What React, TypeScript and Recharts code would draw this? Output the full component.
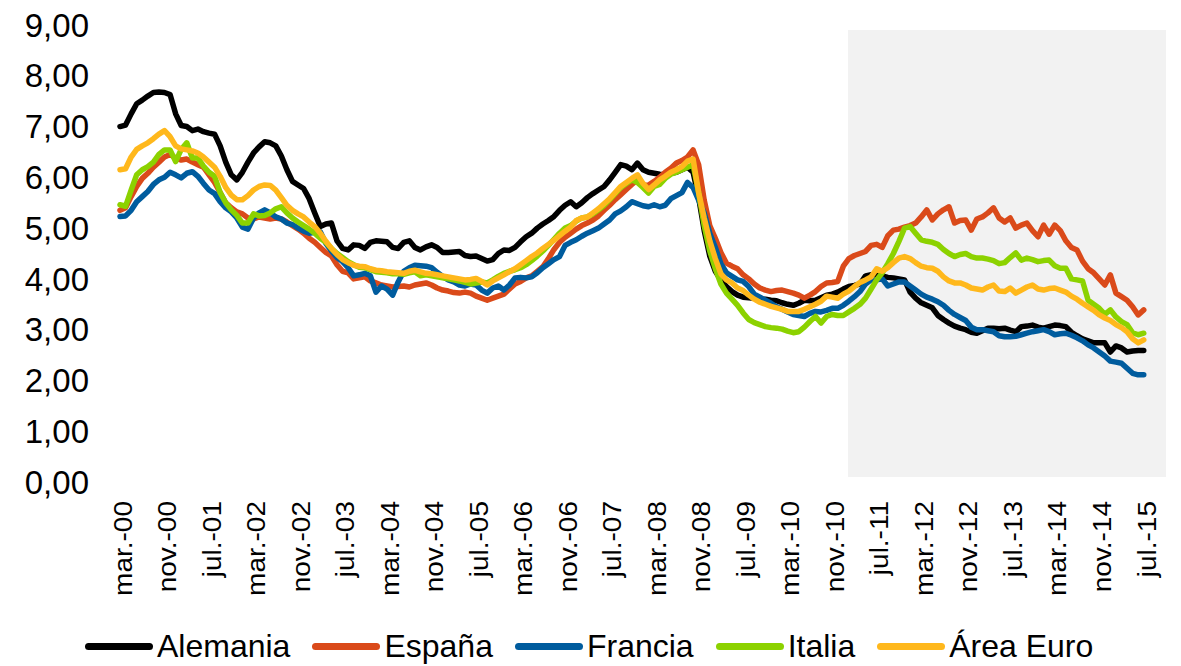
import React from 'react';
import { LineChart, Line, XAxis, YAxis, ReferenceArea, ReferenceLine } from 'recharts';

// month index 0 = mar.-00 ... 184 = jul.-15
const tickLabels = [
    'mar.-00', 'nov.-00', 'jul.-01', 'mar.-02', 'nov.-02', 'jul.-03', 'mar.-04', 'nov.-04',
    'jul.-05', 'mar.-06', 'nov.-06', 'jul.-07', 'mar.-08', 'nov.-08', 'jul.-09', 'mar.-10',
    'nov.-10', 'jul.-11', 'mar.-12', 'nov.-12', 'jul.-13', 'mar.-14', 'nov.-14', 'jul.-15',
];
const tickStep = 8;
const yTicks = [0, 1, 2, 3, 4, 5, 6, 7, 8, 9];

// shaded period (month index) in the background
const shadeFrom = 130.85;
const shadeTo = 188;

const alemania = [
    7.00, 7.03, 7.25, 7.45, 7.52, 7.60, 7.67, 7.68, 7.67, 7.63,
    7.25, 7.02, 7.00, 6.92, 6.95, 6.90, 6.87, 6.85, 6.62, 6.30,
    6.05, 5.95, 6.10, 6.30, 6.48, 6.60, 6.70, 6.68, 6.62, 6.42,
    6.15, 5.92, 5.85, 5.78, 5.58, 5.30, 5.03, 5.08, 5.10, 4.75,
    4.60, 4.57, 4.67, 4.66, 4.60, 4.72, 4.75, 4.74, 4.73, 4.62,
    4.60, 4.72, 4.75, 4.62, 4.57, 4.63, 4.67, 4.62, 4.52, 4.52,
    4.53, 4.54, 4.46, 4.44, 4.45, 4.40, 4.35, 4.38, 4.50, 4.57,
    4.56, 4.62, 4.73, 4.83, 4.90, 5.00, 5.08, 5.15, 5.23, 5.35,
    5.45, 5.52, 5.42, 5.50, 5.60, 5.68, 5.75, 5.82, 5.95, 6.10,
    6.25, 6.22, 6.15, 6.28, 6.15, 6.10, 6.08, 6.06, 6.05, 6.08,
    6.10, 6.15, 6.20, 6.10, 5.60, 4.95, 4.45, 4.15, 3.98, 3.85,
    3.75, 3.68, 3.64, 3.63, 3.62, 3.60, 3.60, 3.58, 3.57, 3.53,
    3.50, 3.48, 3.52, 3.58, 3.57, 3.58, 3.63, 3.68, 3.70, 3.74,
    3.80, 3.85, 3.87, 3.90, 4.06, 4.08, 4.08, 4.06, 4.03, 4.02,
    4.00, 3.98, 3.74, 3.62, 3.53, 3.48, 3.43, 3.28, 3.20, 3.13,
    3.07, 3.03, 3.00, 2.95, 2.93, 2.98, 3.03, 3.03, 3.02, 3.03,
    2.99, 2.96, 3.06, 3.07, 3.09, 3.05, 3.03, 3.06, 3.09, 3.08,
    3.06, 2.95, 2.88, 2.82, 2.78, 2.74, 2.74, 2.74, 2.56, 2.68,
    2.64, 2.56, 2.58, 2.59, 2.59,
];

const espana = [
    5.35, 5.40, 5.62, 5.82, 5.98, 6.08, 6.20, 6.30, 6.40, 6.45,
    6.38, 6.34, 6.36, 6.30, 6.25, 6.20, 6.05, 5.90, 5.70, 5.50,
    5.40, 5.32, 5.28, 5.20, 5.18, 5.22, 5.20, 5.18, 5.20, 5.18,
    5.12, 5.05, 4.98, 4.90, 4.80, 4.72, 4.62, 4.52, 4.45, 4.28,
    4.15, 4.12, 4.00, 4.02, 4.04, 3.96, 3.92, 3.88, 3.86, 3.84,
    3.85, 3.86, 3.84, 3.88, 3.90, 3.92, 3.88, 3.82, 3.78, 3.76,
    3.73, 3.72, 3.74, 3.72, 3.66, 3.62, 3.58, 3.62, 3.66, 3.70,
    3.80, 3.90, 3.95, 4.02, 4.06, 4.15, 4.24, 4.40, 4.58, 4.72,
    4.82, 4.90, 4.98, 5.05, 5.10, 5.16, 5.24, 5.35, 5.45, 5.56,
    5.66, 5.76, 5.86, 5.95, 5.84, 5.85, 5.92, 6.00, 6.10, 6.18,
    6.28, 6.33, 6.40, 6.54, 6.25, 5.55, 5.05, 4.80, 4.52, 4.31,
    4.25, 4.20, 4.08, 4.00, 3.90, 3.82, 3.78, 3.75, 3.77, 3.78,
    3.75, 3.72, 3.68, 3.62, 3.68, 3.75, 3.85, 3.92, 3.93, 3.95,
    4.25, 4.40, 4.46, 4.50, 4.54, 4.66, 4.68, 4.62, 4.85, 4.96,
    4.98, 5.02, 5.05, 5.10, 5.22, 5.36, 5.16, 5.28, 5.36, 5.42,
    5.10, 5.15, 5.16, 4.96, 5.18, 5.22, 5.30, 5.40, 5.20, 5.12,
    5.20, 5.00, 5.06, 5.10, 4.95, 4.83, 5.06, 4.88, 5.06, 4.95,
    4.75, 4.62, 4.57, 4.35, 4.20, 4.12, 4.00, 3.88, 4.08, 3.72,
    3.65, 3.58, 3.45, 3.29, 3.39,
];

const francia = [
    5.23, 5.24, 5.35, 5.52, 5.62, 5.72, 5.86, 5.95, 6.00, 6.10,
    6.05, 5.99, 6.08, 6.11, 6.02, 5.88, 5.75, 5.68, 5.52, 5.40,
    5.32, 5.20, 5.02, 4.98, 5.20, 5.30, 5.36, 5.30, 5.22, 5.18,
    5.10, 5.07, 5.00, 4.94, 4.90, 4.92, 4.93, 4.70, 4.55, 4.42,
    4.34, 4.22, 4.06, 4.08, 4.11, 4.06, 3.74, 3.86, 3.80, 3.68,
    3.94, 4.15, 4.22, 4.27, 4.26, 4.25, 4.22, 4.13, 4.05, 3.98,
    3.94, 3.88, 3.86, 3.90, 3.88, 3.78, 3.72, 3.82, 3.86, 3.78,
    3.88, 4.02, 4.03, 4.02, 4.04, 4.12, 4.22, 4.30, 4.38, 4.44,
    4.66, 4.72, 4.77, 4.84, 4.90, 4.95, 5.00, 5.08, 5.16, 5.28,
    5.34, 5.42, 5.52, 5.48, 5.44, 5.42, 5.46, 5.42, 5.45, 5.58,
    5.64, 5.70, 5.90, 5.80, 5.55, 5.30, 4.90, 4.62, 4.30, 4.12,
    4.05, 3.98, 3.95, 3.85, 3.70, 3.64, 3.58, 3.52, 3.45, 3.40,
    3.35, 3.30, 3.28, 3.26, 3.32, 3.36, 3.35, 3.38, 3.42, 3.42,
    3.48, 3.56, 3.65, 3.75, 3.90, 3.98, 3.98, 4.00, 3.86, 3.90,
    3.94, 3.94, 3.86, 3.78, 3.70, 3.64, 3.60, 3.55, 3.48, 3.38,
    3.30, 3.24, 3.18, 3.05, 3.00, 3.00, 2.98, 2.96, 2.88, 2.86,
    2.86, 2.87, 2.90, 2.93, 2.96, 2.98, 3.00, 2.96, 2.90, 2.92,
    2.93, 2.89, 2.84, 2.78, 2.70, 2.64, 2.56, 2.48, 2.38, 2.36,
    2.34, 2.24, 2.14, 2.11, 2.11,
];

const italia = [
    5.46, 5.43, 5.75, 6.05, 6.15, 6.21, 6.30, 6.45, 6.54, 6.54,
    6.31, 6.55, 6.68, 6.38, 6.38, 6.22, 6.10, 6.02, 5.70, 5.50,
    5.36, 5.25, 5.10, 5.10, 5.28, 5.24, 5.25, 5.30, 5.38, 5.42,
    5.30, 5.20, 5.12, 5.05, 4.98, 4.90, 4.80, 4.72, 4.60, 4.50,
    4.42, 4.34, 4.28, 4.23, 4.22, 4.18, 4.14, 4.13, 4.12, 4.10,
    4.10, 4.09, 4.12, 4.14, 4.06, 4.08, 4.06, 4.04, 4.02, 4.00,
    3.98, 3.96, 3.93, 3.90, 3.92, 3.94, 3.92, 3.98, 4.05, 4.11,
    4.15, 4.18, 4.22, 4.28, 4.36, 4.45, 4.55, 4.66, 4.78, 4.90,
    5.00, 5.05, 5.14, 5.20, 5.22, 5.28, 5.36, 5.45, 5.56, 5.68,
    5.80, 5.88, 5.95, 5.90, 5.80, 5.69, 5.82, 5.86, 5.98, 6.06,
    6.10, 6.15, 6.20, 6.25, 5.70, 5.05, 4.55, 4.20, 3.90, 3.72,
    3.60, 3.48, 3.33, 3.20, 3.14, 3.10, 3.06, 3.04, 3.03, 3.01,
    2.97, 2.94, 2.96, 3.05, 3.16, 3.26, 3.13, 3.26, 3.30, 3.28,
    3.28, 3.35, 3.42, 3.50, 3.62, 3.80, 3.98, 4.12, 4.30, 4.50,
    4.74, 5.00, 5.03, 4.90, 4.77, 4.74, 4.72, 4.68, 4.58, 4.50,
    4.44, 4.48, 4.50, 4.44, 4.41, 4.41, 4.39, 4.36, 4.30, 4.32,
    4.42, 4.51, 4.37, 4.41, 4.38, 4.34, 4.36, 4.37, 4.26, 4.21,
    4.21, 4.00, 3.98, 3.96, 3.58, 3.50, 3.42, 3.30, 3.39, 3.25,
    3.16, 3.10, 2.94, 2.90, 2.93,
];

const areaEuro = [
    6.15, 6.17, 6.40, 6.55, 6.62, 6.68, 6.76, 6.85, 6.92, 6.80,
    6.62, 6.56, 6.54, 6.52, 6.48, 6.40, 6.30, 6.20, 6.02, 5.80,
    5.65, 5.56, 5.56, 5.64, 5.75, 5.82, 5.85, 5.84, 5.75, 5.60,
    5.45, 5.35, 5.28, 5.22, 5.12, 5.03, 4.90, 4.74, 4.60, 4.48,
    4.38, 4.32, 4.27, 4.25, 4.24, 4.20, 4.17, 4.16, 4.14, 4.13,
    4.12, 4.11, 4.15, 4.17, 4.14, 4.11, 4.10, 4.08, 4.06, 4.04,
    4.02, 4.00, 3.98, 3.99, 4.01, 3.95, 3.88, 3.96, 4.02, 4.08,
    4.14, 4.20, 4.28, 4.36, 4.44, 4.51, 4.60, 4.68, 4.76, 4.85,
    4.94, 5.02, 5.15, 5.20, 5.22, 5.30, 5.38, 5.48, 5.58, 5.70,
    5.82, 5.90, 5.98, 6.05, 5.88, 5.76, 5.85, 5.95, 6.02, 6.10,
    6.15, 6.21, 6.32, 6.36, 5.70, 5.20, 4.75, 4.40, 4.10, 3.98,
    3.92, 3.82, 3.77, 3.68, 3.60, 3.54, 3.50, 3.46, 3.43, 3.40,
    3.36, 3.36, 3.36, 3.40, 3.45, 3.50, 3.56, 3.66, 3.64, 3.62,
    3.70, 3.76, 3.85, 3.93, 3.98, 4.04, 4.20, 4.15, 4.22, 4.32,
    4.41, 4.44, 4.40, 4.32, 4.25, 4.22, 4.21, 4.15, 4.04, 3.96,
    3.92, 3.92, 3.88, 3.82, 3.80, 3.78, 3.84, 3.88, 3.76, 3.75,
    3.82, 3.72, 3.78, 3.84, 3.88, 3.80, 3.78, 3.81, 3.82, 3.78,
    3.74, 3.66, 3.60, 3.52, 3.45, 3.38, 3.29, 3.23, 3.18, 3.10,
    3.04, 2.96, 2.82, 2.74, 2.80,
];

const series = [
    { name: 'Alemania', color: '#000000', values: alemania },
    { name: 'España', color: '#DA4A1A', values: espana },
    { name: 'Francia', color: '#005C9E', values: francia },
    { name: 'Italia', color: '#8CD200', values: italia },
    { name: 'Área Euro', color: '#FFB81C', values: areaEuro },
];

const chartData = alemania.map((_, i) => {
    const row: { [key: string]: number } = { m: i };
    series.forEach(s => {
        row[s.name] = s.values[i];
    });
    return row;
});

const tickMonths = tickLabels.map((_, k) => k * tickStep);
const FONT = '"Liberation Sans", Arial, sans-serif';

const formatValue = (v: number) => v.toFixed(2).replace('.', ',');

const MonthTick = (props: any) => {
    const { x, y, payload } = props;
    const label = tickLabels[Math.round(payload.value / tickStep)];
    return (
        <text
            transform={`translate(${x + 3},${y + 19}) rotate(-90) scale(1.12,1)`}
            textAnchor="end"
            dy="0.35em"
            fontSize={25}
            fontFamily={FONT}
            fill="#000"
        >
            {label}
        </text>
    );
};

const App: React.FC = () => {
    return (
        <div style={{ position: 'relative', width: 1181, height: 666, margin: '-8px 0 0 -8px', fontFamily: FONT, background: '#fff', overflow: 'hidden' }}>
            <div style={{ position: 'absolute', left: 0, top: 178, width: 6, height: 367, background: '#000' }} />
            <LineChart width={1181} height={610} data={chartData} margin={{ top: 25, right: 15, left: 0, bottom: 0 }}>
                <ReferenceArea x1={shadeFrom} x2={shadeTo} y1={0.1} y2={8.9} fill="#F2F2F2" fillOpacity={1} stroke="none" />
                <ReferenceLine
                    segment={[{ x: -0.3, y: 0.03 }, { x: 184.6, y: 0.03 }]}
                    stroke="#D9D9D9"
                    strokeWidth={2}
                />
                <XAxis
                    type="number"
                    dataKey="m"
                    domain={[0, 188]}
                    ticks={tickMonths}
                    interval={0}
                    tick={<MonthTick />}
                    tickLine={false}
                    axisLine={false}
                    tickSize={0}
                    tickMargin={0}
                    height={128}
                />
                <YAxis
                    domain={[0, 9]}
                    ticks={yTicks}
                    interval={0}
                    width={120}
                    tickFormatter={formatValue}
                    tick={{ fontSize: 33, fill: '#000', fontFamily: FONT }}
                    tickLine={false}
                    axisLine={false}
                    tickSize={0}
                    tickMargin={31}
                />
                {series.map(s => (
                    <Line
                        key={s.name}
                        type="linear"
                        dataKey={s.name}
                        stroke={s.color}
                        strokeWidth={5.5}
                        strokeLinejoin="round"
                        strokeLinecap="round"
                        dot={false}
                        activeDot={false}
                        isAnimationActive={false}
                    />
                ))}
            </LineChart>
            <div
                style={{
                    position: 'absolute',
                    left: 85,
                    top: 629,
                    height: 34,
                    display: 'flex',
                    alignItems: 'center',
                    fontSize: 32,
                    lineHeight: '34px',
                    color: '#000',
                    whiteSpace: 'nowrap',
                }}
            >
                {series.map(s => (
                    <div key={s.name} style={{ display: 'flex', alignItems: 'center', marginRight: 22 }}>
                        <span style={{ display: 'inline-block', width: 68, height: 7, borderRadius: 4, background: s.color, marginRight: 4 }} />
                        <span>{s.name}</span>
                    </div>
                ))}
            </div>
        </div>
    );
};

export default App;
